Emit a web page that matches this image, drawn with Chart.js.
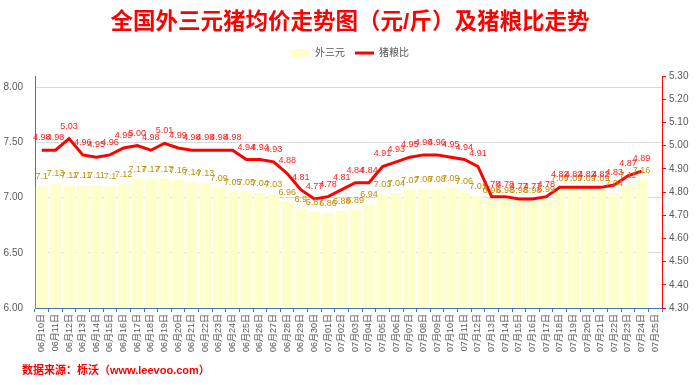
<!DOCTYPE html>
<html>
<head>
<meta charset="utf-8">
<script src="https://cdn.jsdelivr.net/npm/chart.js@4"></script>
<style>
  html, body { margin: 0; padding: 0; background: #fff; }
  #wrap { width: 700px; height: 385px; }
</style>
</head>
<body>
<div id="wrap"><canvas id="pig"></canvas></div>
<script>
const FONT = "'Liberation Sans', 'Noto Sans CJK SC', sans-serif";

const days = [
  "06月10日", "06月11日", "06月12日", "06月13日", "06月14日", "06月15日", "06月16日",
  "06月17日", "06月18日", "06月19日", "06月20日", "06月21日", "06月22日", "06月23日",
  "06月24日", "06月25日", "06月26日", "06月27日", "06月28日", "06月29日", "06月30日",
  "07月01日", "07月02日", "07月03日", "07月04日", "07月05日", "07月06日", "07月07日",
  "07月08日", "07月09日", "07月10日", "07月11日", "07月12日", "07月13日", "07月14日",
  "07月15日", "07月16日", "07月17日", "07月18日", "07月19日", "07月20日", "07月21日",
  "07月22日", "07月23日", "07月24日", "07月25日"
];

// 外三元 price, yuan/jin
const pigPrice = [
  7.1, 7.13, 7.11, 7.11, 7.11, 7.1, 7.12,
  7.17, 7.17, 7.17, 7.16, 7.14, 7.13, 7.09,
  7.05, 7.05, 7.04, 7.03, 6.96, 6.9, 6.87,
  6.86, 6.88, 6.89, 6.94, 7.03, 7.04, 7.07,
  7.08, 7.08, 7.09, 7.06, 7.01, 6.98, 6.98,
  6.98, 6.98, 6.99, 7.09, 7.09, 7.09, 7.09,
  7.04, 7.11, 7.16
];

// 猪粮比
const pigGrainRatio = [
  4.98, 4.98, 5.03, 4.96, 4.95, 4.96, 4.99,
  5.00, 4.98, 5.01, 4.99, 4.98, 4.98, 4.98,
  4.98, 4.94, 4.94, 4.93, 4.88, 4.81, 4.77,
  4.78, 4.81, 4.84, 4.84, 4.91, 4.93, 4.95,
  4.96, 4.96, 4.95, 4.94, 4.91, 4.78, 4.78,
  4.77, 4.77, 4.78, 4.82, 4.82, 4.82, 4.82,
  4.83, 4.87, 4.89
];

const leftTicks = [6.0, 6.5, 7.0, 7.5, 8.0];
const rightTicks = [4.3, 4.4, 4.5, 4.6, 4.7, 4.8, 4.9, 5.0, 5.1, 5.2, 5.3];

// value labels above bars and line points, plus the source note
const valueLabels = {
  id: "valueLabels",
  beforeInit(chart) {
    // leave a bit more room under the legend
    const fit = chart.legend.fit;
    chart.legend.fit = function () {
      fit.bind(chart.legend)();
      this.height += 8;
    };
  },
  afterDatasetsDraw(chart) {
    const ctx = chart.ctx;
    ctx.save();
    ctx.font = "9px " + FONT;
    ctx.textAlign = "center";
    ctx.textBaseline = "bottom";

    ctx.fillStyle = "#BF9000";
    chart.getDatasetMeta(0).data.forEach((el, i) => {
      ctx.fillText(String(pigPrice[i]), el.x, el.y - 5);
    });

    ctx.fillStyle = "#FF2020";
    chart.getDatasetMeta(1).data.forEach((el, i) => {
      ctx.fillText(pigGrainRatio[i].toFixed(2), el.x, el.y - 8);
    });
    ctx.restore();
  },
  afterDraw(chart) {
    const ctx = chart.ctx;
    ctx.save();
    ctx.font = "bold 11px " + FONT;
    ctx.fillStyle = "#FF0000";
    ctx.textBaseline = "middle";
    ctx.fillText("数据来源：栎沃（www.leevoo.com）", 22, 371);
    ctx.restore();
  }
};

new Chart(document.getElementById("pig"), {
  type: "bar",
  data: {
    labels: days,
    datasets: [
      {
        label: "外三元",
        data: pigPrice,
        backgroundColor: "#FFFFCC",
        borderWidth: 0,
        barPercentage: 0.88,
        categoryPercentage: 1,
        yAxisID: "y",
        pointStyle: "rect",
        order: 2,
      },
      {
        type: "line",
        label: "猪粮比",
        data: pigGrainRatio,
        borderColor: "#FF0000",
        backgroundColor: "#FF0000",
        borderWidth: 3,
        pointRadius: 0,
        tension: 0,
        yAxisID: "y1",
        pointStyle: "line",
        order: 1,
      },
    ],
  },
  options: {
    responsive: true,
    maintainAspectRatio: false,
    animation: false,
    layout: { padding: { left: 0, right: 0, top: 0, bottom: 0 } },
    plugins: {
      title: {
        display: true,
        text: "全国外三元猪均价走势图（元/斤）及猪粮比走势",
        color: "#FF0000",
        font: { size: 22.5, weight: "bold", family: FONT },
        padding: { top: 9, bottom: 2 },
      },
      legend: {
        position: "top",
        labels: {
          usePointStyle: true,
          pointStyleWidth: 19,
          boxHeight: 8,
          padding: 10,
          color: "#595959",
          font: { size: 10, family: FONT },
          sort: (a, b) => a.datasetIndex - b.datasetIndex,
        },
      },
      tooltip: { enabled: false },
    },
    scales: {
      x: {
        grid: { drawOnChartArea: false, tickLength: 4, color: "#4472C4" },
        border: { color: "#4472C4", width: 1 },
        ticks: {
          autoSkip: false,
          maxRotation: 90,
          minRotation: 90,
          padding: 2,
          color: "#595959",
          font: { size: 9, family: FONT },
        },
        afterFit: (s) => { s.height = 77; },
      },
      y: {
        position: "left",
        min: 6,
        max: 8.1,
        afterBuildTicks: (s) => { s.ticks = leftTicks.map((v) => ({ value: v })); },
        grid: { color: "#D9D9D9", drawTicks: false },
        border: { color: "#4472C4", width: 1 },
        ticks: {
          padding: 12,
          color: "#595959",
          font: { size: 10, family: FONT },
          callback: (v) => Number(v).toFixed(2),
        },
        afterFit: (s) => { s.width = 35; },
      },
      y1: {
        position: "right",
        min: 4.3,
        max: 5.3,
        afterBuildTicks: (s) => { s.ticks = rightTicks.map((v) => ({ value: v })); },
        grid: { drawOnChartArea: false, tickLength: 4, color: "#FF0000" },
        border: { color: "#FF0000", width: 1 },
        ticks: {
          padding: 3,
          color: "#595959",
          font: { size: 10, family: FONT },
          callback: (v) => Number(v).toFixed(2),
        },
        afterFit: (s) => { s.width = 38; },
      },
    },
  },
  plugins: [valueLabels],
});
</script>
</body>
</html>
